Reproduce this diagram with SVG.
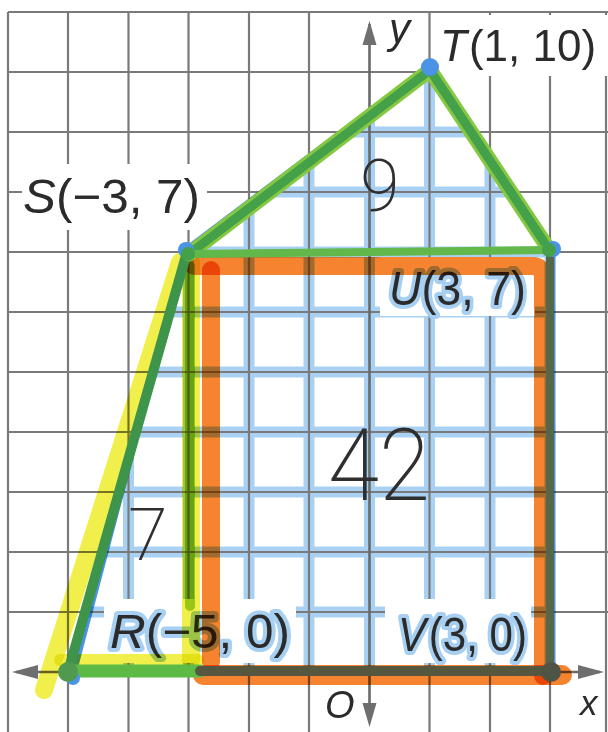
<svg xmlns="http://www.w3.org/2000/svg" width="608" height="732" viewBox="0 0 608 732">
<style>
.grid{stroke:#7a7a7a;stroke-width:2.2;fill:none}
.axis{stroke:#6a6a6a;stroke-width:2.6;fill:none}
.arrow{fill:#6f6f6f}
.bgrid{stroke:#a9d1f3;stroke-width:11;fill:none}
.box{fill:#ffffff}
.lbl{font-family:"Liberation Sans",Arial,"DejaVu Sans",sans-serif;font-size:48px;fill:#2b2b2b}
.it{font-style:italic}
.halo{stroke:#a6cff2;stroke-width:8;stroke-linejoin:round;paint-order:stroke}
.hl{mix-blend-mode:multiply;fill:none;stroke-linecap:round;stroke-linejoin:round}
.hand{font-family:Roboto,"DejaVu Sans",sans-serif;font-weight:200;fill:#2f2f2f}
</style>
<defs>
<clipPath id="pent"><polygon points="70,676 186,249 430,65 553,249 553,676"/></clipPath>
</defs>
<rect width="608" height="732" fill="#ffffff"/>
<g id="blue-grid" clip-path="url(#pent)">
<path class="bgrid" d="M68,132H608M68,192H608M68,252H608M68,312H608M68,372H608M68,432H608M68,492H608M68,552H608M68,612H608M68,672H608M128.5,12V732M188.5,12V732M249,12V732M309,12V732M369.5,12V732M429.5,12V732M490,12V732M550,12V732"/>
</g>
<g id="grid">
<path class="grid" d="M8,12H608M8,72H608M8,132H608M8,192H608M8,252H608M8,312H608M8,372H608M8,432H608M8,492H608M8,552H608M8,612H608M8,12V732M68,12V732M128.5,12V732M188.5,12V732M249,12V732M309,12V732M429.5,12V732M490,12V732M550,12V732M606,12V732"/>
</g>
<g id="label-boxes">
<rect class="box" x="22" y="164" width="185" height="66"/>
<rect class="box" x="439" y="15" width="169" height="61"/>
<rect class="box" x="380" y="257" width="155" height="59"/>
<rect class="box" x="104" y="599" width="192" height="64"/>
<rect class="box" x="385" y="599" width="146" height="64"/>
</g>
<g id="axes">
<path class="axis" d="M16,672H600M369.5,24V722"/>
<polygon class="arrow" points="369.5,21 362.5,45 376.5,45"/>
<polygon class="arrow" points="369.5,727 362.5,703 376.5,703"/>
<polygon class="arrow" points="12,672 38,665 38,679"/>
<polygon class="arrow" points="604,672 578,665 578,679"/>
<text class="lbl it" x="389" y="43" style="font-size:42px">y</text>
<text class="lbl it" x="580" y="715" style="font-size:35px">x</text>
<text class="lbl it" x="325" y="718" style="font-size:38px">O</text>
</g>
<g id="labels">
<text class="lbl" x="23" y="213" textLength="177" lengthAdjust="spacingAndGlyphs"><tspan class="it">S</tspan>(−3, 7)</text>
<text class="lbl" x="440" y="61" style="font-size:44px"><tspan class="it">T</tspan><tspan dx="2">(1, 10)</tspan></text>
<text class="lbl halo" x="389" y="305" textLength="137" lengthAdjust="spacingAndGlyphs"><tspan class="it">U</tspan>(3, 7)</text>
<text class="lbl halo" x="110" y="648" textLength="180" lengthAdjust="spacingAndGlyphs"><tspan class="it">R</tspan>(−5, 0)</text>
<text class="lbl halo" x="398" y="651" textLength="129" lengthAdjust="spacingAndGlyphs"><tspan class="it">V</tspan><tspan dx="3">(3, 0)</tspan></text>
</g>
<g id="highlights">
<path class="hl" stroke="#f1ef4c" stroke-width="18" d="M44,690L180,262"/>
<path class="hl" stroke="#f1ef4c" stroke-width="18" d="M191,262V660"/>
<path class="hl" stroke="#f1ef4c" stroke-width="12" d="M60,660H198"/>
<path class="hl" stroke="#a3d54a" stroke-width="10" d="M190,266V606"/>
<path class="hl" stroke="#f5832f" stroke-width="18" d="M194,266H532Q543,266 543,278V676"/>
<path class="hl" stroke="#f5832f" stroke-width="18" d="M211,270V662"/>
<path class="hl" stroke="#f5832f" stroke-width="20" d="M203,675H562"/>
<path class="hl" stroke="#4b93e4" stroke-width="5" d="M73,677L186,249L430,65L553,249V672"/>
</g>
<g id="green-lines" fill="none" stroke-linecap="round" stroke-linejoin="round">
<path stroke="#3e944a" stroke-width="10" d="M68,672L187,252"/>
<path stroke="#86c940" stroke-width="15" d="M189,254L430,70L548,248"/>
<path stroke="#45a04a" stroke-width="9" d="M189,254L430,70L548,248"/>
<path stroke="#62b84a" stroke-width="8" d="M188,254L549,250"/>
<path stroke="#5dba45" stroke-width="13" d="M68,671H200"/>
<path stroke="#55583f" stroke-width="10" d="M200,671H553"/>
<path stroke="#55674b" stroke-width="8" d="M550,252V672"/>
</g>
<g id="points">
<circle cx="186" cy="250" r="8" fill="#4b93e4"/>
<circle cx="430" cy="67" r="9" fill="#4b93e4"/>
<circle cx="553" cy="249" r="8" fill="#4b93e4"/>
<circle cx="73" cy="678" r="7" fill="#4b93e4"/>
<circle cx="68" cy="672" r="10" fill="#4f9a4f"/>
<circle cx="188" cy="254" r="7" fill="#45a04a"/>
<circle cx="549" cy="250" r="7" fill="#45a04a"/>
<circle cx="551" cy="672" r="10" fill="#4f5545"/>
</g>
<g id="handwriting">
<text class="hand" x="360" y="211" style="font-size:72px">9</text>
<text class="hand" x="328" y="500" textLength="102" lengthAdjust="spacingAndGlyphs" style="font-size:100px">42</text>
<text class="hand" x="128" y="560" style="font-size:72px">7</text>
</g>
</svg>
